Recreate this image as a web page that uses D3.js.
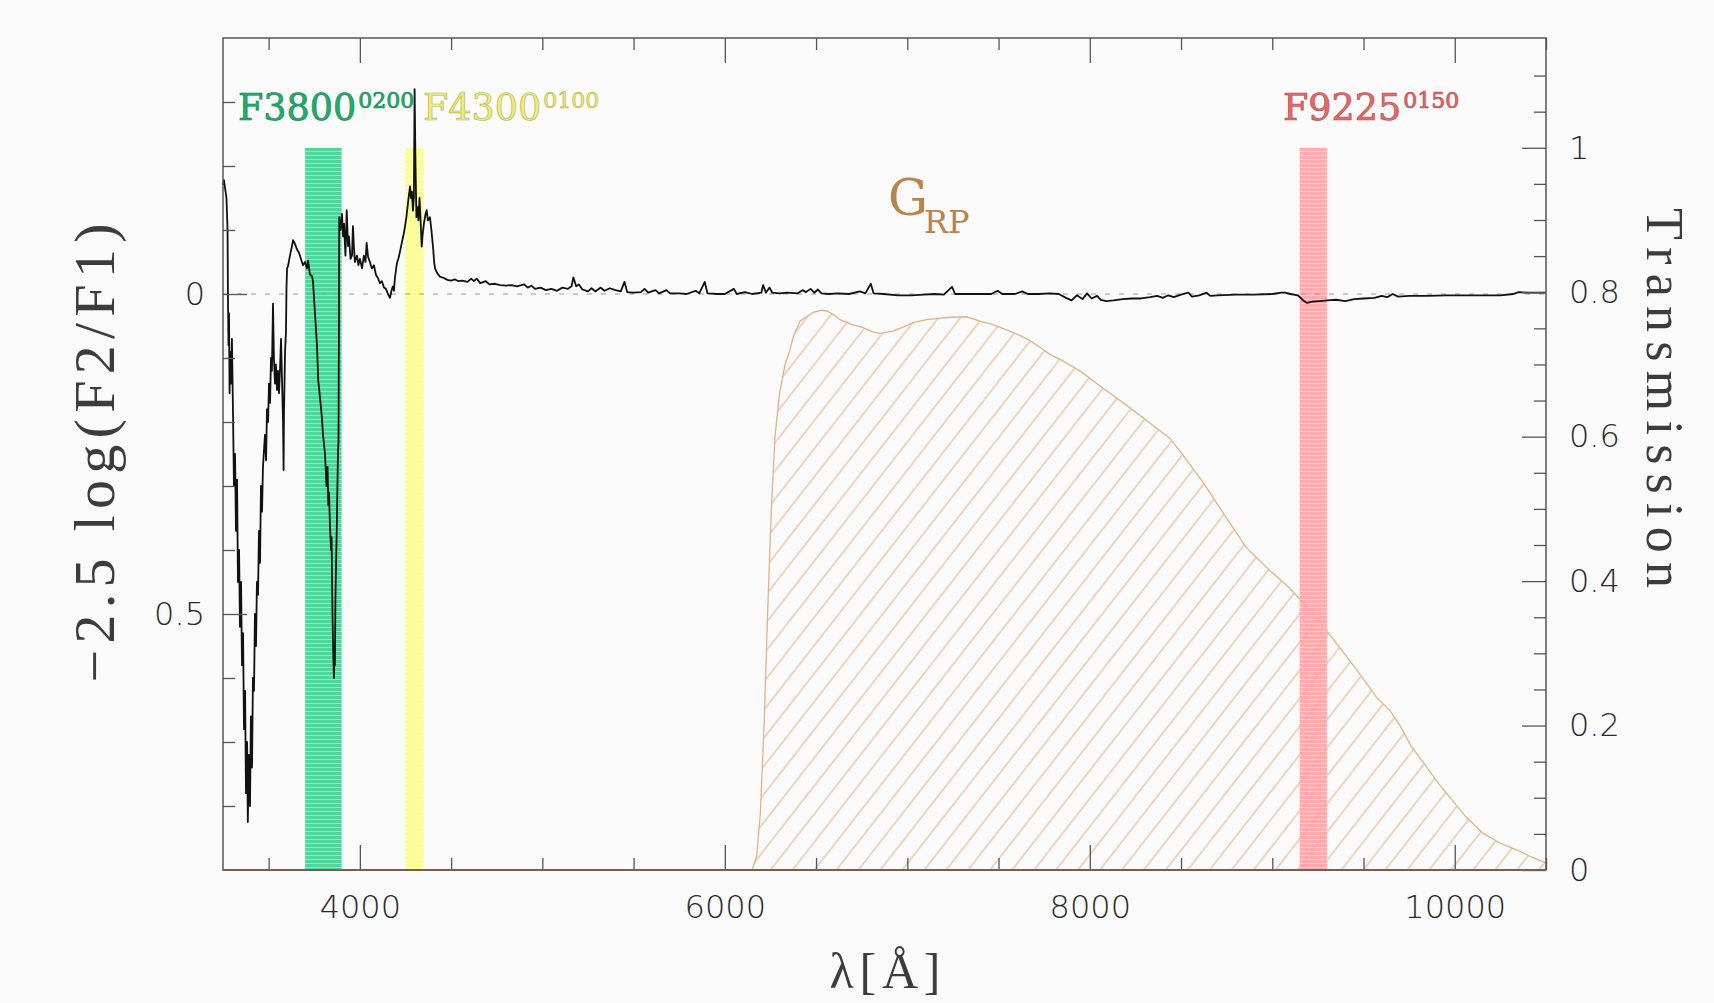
<!DOCTYPE html>
<html><head><meta charset="utf-8">
<script src="https://cdn.jsdelivr.net/npm/d3@7"></script>
<style>
html,body{margin:0;padding:0;background:#fafafa;}
svg{display:block;}
</style></head><body>
<svg id="chart" width="1714" height="1003"></svg>
<script>
// ---------- DATA ----------
// spectrum: [wavelength (Å), -2.5 log(F2/F1)]
const spectrum = [
[3250,-0.17],[3255,-0.178],[3264,-0.16],[3269,-0.15],[3275,-0.1],[3277,0.0],[3280,0.08],[3283,0.03],[3286,0.155],[3288,0.09],
[3294,0.14],[3299,0.07],[3305,0.19],[3310,0.3],[3316,0.25],[3321,0.37],[3327,0.29],[3332,0.45],[3338,0.4],[3343,0.52],
[3349,0.45],[3354,0.58],[3360,0.53],[3365,0.68],[3371,0.62],[3376,0.78],[3382,0.7],[3386,0.825],[3392,0.72],[3398,0.8],
[3403,0.66],[3409,0.74],[3414,0.6],[3420,0.62],[3425,0.5],[3431,0.55],[3436,0.45],[3442,0.47],[3447,0.37],[3453,0.42],
[3458,0.3],[3464,0.34],[3469,0.27],[3480,0.22],[3486,0.26],[3491,0.18],[3497,0.2],[3502,0.14],[3508,0.17],[3513,0.1],
[3518,0.12],[3524,0.015],[3529,0.1],[3535,0.14],[3540,0.11],[3546,0.15],[3551,0.12],[3557,0.155],[3562,0.12],[3568,0.07],
[3573,0.13],[3579,0.2],[3582,0.275],[3584,0.19],[3590,0.09],[3595,0.06],[3598,-0.01],[3601,-0.04],[3606,-0.043],[3617,-0.06],
[3628,-0.075],[3634,-0.084],[3645,-0.078],[3655,-0.07],[3666,-0.065],[3677,-0.055],[3688,-0.045],[3699,-0.05],[3710,-0.04],[3716,-0.052],
[3727,-0.03],[3738,-0.028],[3743,-0.02],[3754,0.03],[3765,0.08],[3772,0.135],[3781,0.16],[3791,0.19],[3798,0.22],[3809,0.25],
[3817,0.3],[3823,0.27],[3827,0.33],[3831,0.31],[3836,0.36],[3842,0.4],[3845,0.38],[3850,0.5],[3854,0.56],[3858,0.6],
[3861,0.55],[3863,0.58],[3866,0.48],[3869,0.43],[3874,0.36],[3877,0.3],[3880,0.25],[3883,0.23],[3885,0.08],[3887,-0.12],
[3894,-0.1],[3902,-0.125],[3908,-0.09],[3913,-0.11],[3921,-0.06],[3928,-0.131],[3935,-0.075],[3940,-0.09],[3949,-0.055],[3957,-0.06],
[3962,-0.106],[3968,-0.07],[3973,-0.05],[3984,-0.06],[3992,-0.045],[4000,-0.055],[4012,-0.04],[4022,-0.06],[4031,-0.05],[4037,-0.08],
[4045,-0.058],[4055,-0.05],[4066,-0.04],[4077,-0.045],[4088,-0.03],[4099,-0.025],[4110,-0.017],[4121,-0.02],[4132,-0.01],[4143,-0.008],
[4154,0.0],[4165,0.006],[4173,-0.005],[4181,-0.012],[4187,-0.005],[4192,-0.025],[4203,-0.048],[4211,-0.055],[4219,-0.065],[4230,-0.08],
[4241,-0.095],[4247,-0.105],[4255,-0.12],[4263,-0.14],[4269,-0.155],[4275,-0.168],[4280,-0.15],[4285,-0.16],[4291,-0.13],[4296,-0.15],
[4300,-0.32],[4305,-0.2],[4310,-0.12],[4315,-0.136],[4321,-0.115],[4327,-0.15],[4332,-0.12],[4339,-0.074],[4343,-0.09],[4351,-0.11],
[4360,-0.125],[4366,-0.131],[4373,-0.115],[4384,-0.12],[4392,-0.1],[4402,-0.07],[4407,-0.05],[4412,-0.04],[4423,-0.033],[4439,-0.027],
[4460,-0.025],[4480,-0.022],[4500,-0.021],[4520,-0.023],[4540,-0.02],[4560,-0.021],[4590,-0.019],[4610,-0.024],[4625,-0.02],[4640,-0.024],
[4660,-0.017],[4690,-0.02],[4710,-0.015],[4740,-0.016],[4770,-0.014],[4800,-0.013],[4830,-0.014],[4860,-0.012],[4900,-0.015],[4920,-0.01],
[4940,-0.013],[4960,-0.008],[4990,-0.01],[5020,-0.006],[5050,-0.008],[5080,-0.005],[5110,-0.01],[5140,-0.008],[5160,-0.012],[5170,-0.026],
[5185,-0.012],[5200,-0.015],[5220,-0.007],[5250,-0.004],[5270,-0.009],[5290,-0.004],[5320,-0.01],[5340,-0.005],[5370,-0.009],[5400,-0.006],
[5430,-0.004],[5450,-0.019],[5465,-0.003],[5500,-0.002],[5540,-0.003],[5560,-0.008],[5580,-0.002],[5620,-0.006],[5640,-0.001],[5680,-0.006],
[5700,-0.001],[5750,-0.001],[5790,0.0],[5840,-0.005],[5860,-0.001],[5890,-0.019],[5905,-0.001],[5960,0.0],[6000,0.0],[6050,-0.008],
[6065,0.0],[6110,-0.003],[6150,0.0],[6200,-0.002],[6210,-0.014],[6225,-0.002],[6245,-0.01],[6260,-0.002],[6300,-0.001],[6340,-0.002],
[6400,-0.001],[6425,-0.006],[6445,-0.003],[6470,-0.008],[6490,-0.002],[6510,-0.007],[6530,-0.001],[6570,0.0],[6620,-0.001],[6680,0.0],
[6740,-0.004],[6770,-0.001],[6800,-0.016],[6815,-0.001],[6870,0.0],[6950,0.002],[7020,0.002],[7090,0.001],[7150,0.0],[7200,0.001],
[7245,-0.011],[7262,0.0],[7320,0.0],[7400,0.0],[7460,0.0],[7495,-0.005],[7520,0.0],[7590,0.0],[7630,-0.004],[7660,0.0],
[7720,0.0],[7780,-0.001],[7830,0.0],[7870,0.006],[7900,0.01],[7930,0.002],[7960,0.008],[7985,-0.001],[8010,0.007],[8040,0.003],
[8060,0.009],[8090,0.011],[8130,0.01],[8180,0.008],[8230,0.007],[8280,0.007],[8330,0.005],[8370,0.003],[8400,0.006],[8430,0.002],
[8460,0.005],[8500,0.001],[8540,-0.002],[8560,0.004],[8600,0.002],[8640,-0.002],[8660,0.003],[8700,0.002],[8800,0.001],[8900,0.001],
[9000,0.0],[9050,-0.002],[9070,-0.002],[9100,0.0],[9140,0.002],[9170,0.01],[9190,0.014],[9220,0.012],[9260,0.011],[9300,0.01],
[9350,0.009],[9400,0.011],[9450,0.008],[9500,0.007],[9560,0.006],[9600,0.003],[9630,0.005],[9660,0.0],[9690,0.004],[9750,0.003],
[9850,0.003],[9950,0.002],[10100,0.002],[10250,0.002],[10320,0.0],[10350,-0.003],[10400,-0.002],[10500,-0.002]
];
// G_RP passband: [wavelength (Å), transmission]
const grpCurve = [
[3250,0],[6150,0],[6175,0.02],[6195,0.08],[6215,0.2],[6235,0.36],[6255,0.5],[6275,0.6],[6300,0.66],[6330,0.7],
[6357,0.72],[6373,0.737],[6412,0.76],[6483,0.772],[6530,0.775],[6561,0.774],[6600,0.768],[6631,0.762],[6700,0.755],[6757,0.751],
[6810,0.745],[6850,0.743],[6921,0.746],[6980,0.752],[7031,0.758],[7106,0.762],[7215,0.765],[7325,0.766],[7398,0.76],[7470,0.755],
[7544,0.748],[7610,0.741],[7672,0.733],[7730,0.723],[7782,0.714],[7853,0.705],[7958,0.689],[8078,0.666],[8198,0.644],[8318,0.621],
[8438,0.598],[8497,0.579],[8617,0.538],[8737,0.492],[8856,0.447],[8976,0.417],[9096,0.39],[9216,0.357],[9336,0.319],[9455,0.28],
[9575,0.238],[9644,0.221],[9700,0.2],[9760,0.172],[9845,0.143],[9910,0.12],[9973,0.101],[10060,0.074],[10154,0.051],[10250,0.037],
[10339,0.028],[10420,0.018],[10500,0.01]
];
const bandNames = ["F3800", "F4300", "F9225"];
const bandSuper = ["0200", "0100", "0150"];
const bandStart = [3700, 4250, 9150];
const bandEnd = [3900, 4350, 9300];
const xMajorTicks = [4000, 6000, 8000, 10000];
const leftTickLabels = [0, 0.5];
const rightTickLabels = [0, 0.2, 0.4, 0.6, 0.8, 1];

// ---------- LAYOUT ----------
const L = 223, R = 1546, T = 38, B = 870;
const svg = d3.select("#chart");
svg.append("rect").attr("width",1714).attr("height",1003).attr("fill","#fafafa");

const x = d3.scaleLinear().domain([3250, 10500]).range([L, R]);
const yL = d3.scaleLinear().domain([-0.4, 0.9]).range([T, B]);
const yR = d3.scaleLinear().domain([0, 1.152]).range([B, T]);

const defs = svg.append("defs");
const bandColors = [
  {base:"#46d596", light:"#8fe6bf", text:"#1fae6e", stroke:"#15884f"},
  {base:"#fbfb94", light:"#ffffcc", text:"#ecec7c", stroke:"#b9b950"},
  {base:"#ff9d9d", light:"#ffcaca", text:"#e46a6a", stroke:"#c04848"}
];
bandColors.forEach((c,i)=>{
  const p = defs.append("pattern").attr("id","stripe"+i).attr("patternUnits","userSpaceOnUse")
    .attr("width",8).attr("height",4);
  p.append("rect").attr("width",8).attr("height",4).attr("fill",c.base);
  p.append("rect").attr("y",3).attr("width",8).attr("height",1).attr("fill",c.light);
});
const hp = defs.append("pattern").attr("id","hatch").attr("patternUnits","userSpaceOnUse")
  .attr("width",17.3).attr("height",20).attr("patternTransform","rotate(38)");
hp.append("line").attr("x1",1).attr("y1",-2).attr("x2",1).attr("y2",22)
  .attr("stroke","#e3b68c").attr("stroke-width",1.1);

// G_RP hatched area
const area = d3.area().x(d=>x(d[0])).y0(yR(0)).y1(d=>yR(d[1]));
svg.append("path").datum(grpCurve).attr("d",area).attr("fill","url(#hatch)");
svg.append("path").datum(grpCurve)
  .attr("d", d3.line().x(d=>x(d[0])).y(d=>yR(d[1])))
  .attr("fill","none").attr("stroke","#e0b48a").attr("stroke-width",1.3);

// filter bands
bandNames.forEach((n,i)=>{
  svg.append("rect")
    .attr("x", x(bandStart[i])).attr("width", x(bandEnd[i]) - x(bandStart[i]))
    .attr("y", yR(1)).attr("height", yR(0) - yR(1))
    .attr("fill","url(#stripe"+i+")").attr("opacity", i===2 ? 0.85 : 0.95);
});

// dashed zero line
svg.append("line").attr("x1",L).attr("x2",R).attr("y1",yL(0)).attr("y2",yL(0))
  .attr("stroke","#9a9a9a").attr("stroke-width",1).attr("stroke-dasharray","5,9");

// spectrum
svg.append("path").datum(spectrum)
  .attr("d", d3.line().x(d=>x(d[0])).y(d=>yL(d[1])))
  .attr("fill","none").attr("stroke","#111").attr("stroke-width",1.8).attr("stroke-linejoin","round");

// axes
const tickColor = "#555";
function styleAxis(g){
  g.select(".domain").remove();
  g.selectAll(".tick line").attr("stroke",tickColor).attr("stroke-width",1.3);
  g.selectAll(".tick text").attr("fill","#2a2a2a")
    .attr("font-family","'DejaVu Sans', sans-serif").attr("font-weight",200).attr("font-size",32);
}
const minorX = d3.range(7,22).map(i=>i*500).filter(v=>xMajorTicks.indexOf(v)<0);
svg.append("g").attr("transform",`translate(0,${B})`)
  .call(d3.axisBottom(x).tickValues(minorX).tickSize(-12).tickFormat("")).call(styleAxis);
svg.append("g").attr("transform",`translate(0,${B})`)
  .call(d3.axisBottom(x).tickValues(xMajorTicks).tickSize(-25).tickPadding(25).tickFormat(d3.format("d"))).call(styleAxis);
svg.append("g").attr("transform",`translate(0,${T})`)
  .call(d3.axisTop(x).tickValues(minorX).tickSize(-12).tickFormat("")).call(styleAxis);
svg.append("g").attr("transform",`translate(0,${T})`)
  .call(d3.axisTop(x).tickValues(xMajorTicks).tickSize(-25).tickFormat("")).call(styleAxis);

const minorL = d3.range(-3,9).map(i=>i/10).filter(v=>leftTickLabels.indexOf(v)<0);
svg.append("g").attr("transform",`translate(${L},0)`)
  .call(d3.axisLeft(yL).tickValues(minorL).tickSize(-12).tickFormat("")).call(styleAxis);
svg.append("g").attr("transform",`translate(${L},0)`)
  .call(d3.axisLeft(yL).tickValues(leftTickLabels).tickSize(-24).tickPadding(18).tickFormat(d=>String(d))).call(styleAxis);

const minorR = d3.range(1,23).map(i=>+(i*0.05).toFixed(2)).filter(v=>rightTickLabels.indexOf(v)<0);
svg.append("g").attr("transform",`translate(${R},0)`)
  .call(d3.axisRight(yR).tickValues(minorR).tickSize(-12).tickFormat("")).call(styleAxis);
svg.append("g").attr("transform",`translate(${R},0)`)
  .call(d3.axisRight(yR).tickValues(rightTickLabels).tickSize(-24).tickPadding(23).tickFormat(d=>String(d))).call(styleAxis);

// frame
svg.append("rect").attr("x",L).attr("y",T).attr("width",R-L).attr("height",B-T)
  .attr("fill","none").attr("stroke","#555").attr("stroke-width",1.5);
svg.append("line").attr("x1",L).attr("x2",R).attr("y1",B).attr("y2",B)
  .attr("stroke","#7a5e50").attr("stroke-width",2);

// band labels (main name + superscript width in one text element)
const labelX = [238, 423, 1283];
bandNames.forEach((n,i)=>{
  const c = bandColors[i];
  const t = svg.append("text").attr("x",labelX[i]).attr("y",120)
    .attr("font-family","'DejaVu Serif', serif")
    .attr("fill",c.text).attr("stroke",c.stroke).attr("stroke-width",0.7);
  t.append("tspan").attr("font-size",36.5).text(n);
  t.append("tspan").attr("font-size",22).attr("dx",2).attr("dy",-12).text(bandSuper[i]);
});

// G_RP label
const gl = svg.append("text").attr("x",888).attr("y",215)
  .attr("font-family","'DejaVu Serif', serif").attr("fill","#b8844c");
gl.append("tspan").attr("font-size",50).text("G");
gl.append("tspan").attr("font-size",32).attr("dx",-4).attr("dy",18).text("RP");

// axis titles
svg.append("text").attr("transform","translate(114,453) rotate(-90)")
  .attr("text-anchor","middle").attr("font-family","'Liberation Serif', serif").attr("font-size",58)
  .attr("fill","#3c3c3c").attr("textLength",459).attr("lengthAdjust","spacing")
  .text("\u22122.5 log(F2/F1)");
svg.append("text").attr("transform","translate(1647,398) rotate(90)")
  .attr("text-anchor","middle").attr("font-family","'Liberation Serif', serif").attr("font-size",52)
  .attr("fill","#3c3c3c").attr("textLength",380).attr("lengthAdjust","spacing")
  .text("Transmission");
svg.append("text").attr("x",885).attr("y",988)
  .attr("text-anchor","middle").attr("font-family","'Liberation Serif', serif").attr("font-size",50)
  .attr("fill","#3c3c3c").attr("textLength",111).attr("lengthAdjust","spacing")
  .text("\u03bb[\u00c5]");
</script>
</body></html>
